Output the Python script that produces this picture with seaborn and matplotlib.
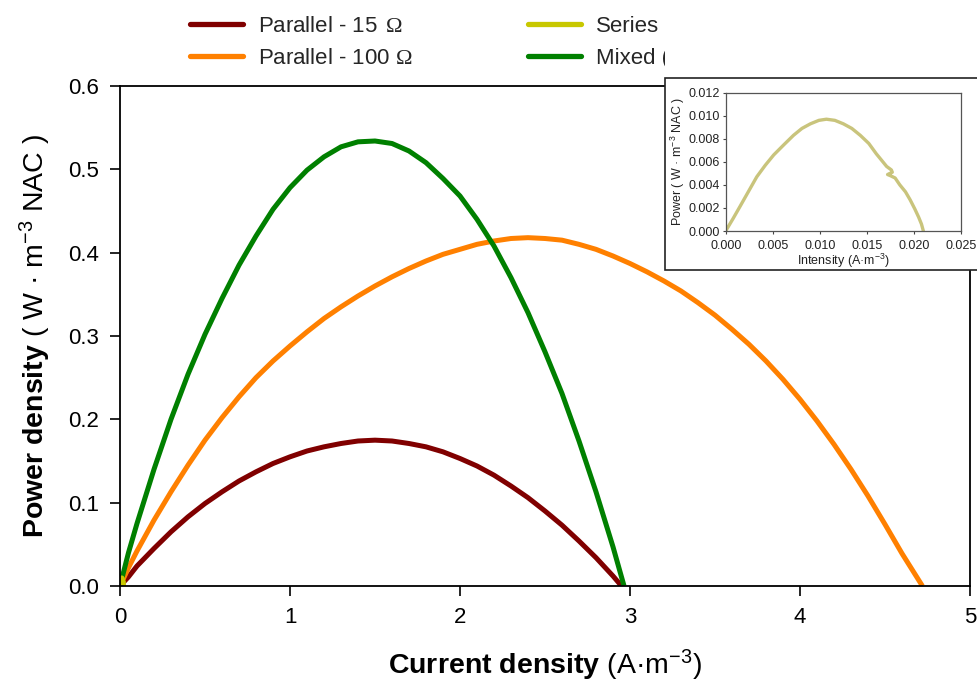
import matplotlib
matplotlib.use("Agg")
import matplotlib.pyplot as plt
import matplotlib.patches as mpatches
from matplotlib.lines import Line2D
import seaborn as sns
import pandas as pd

# Power density curves (current density in A·m-3, power density in W·m-3 NAC)
p15_current = [0, 0.05, 0.1, 0.2, 0.3, 0.4, 0.5, 0.6, 0.7, 0.8, 0.9, 1.0, 1.1, 1.2, 1.3, 1.4, 1.5,
               1.6, 1.7, 1.8, 1.9, 2.0, 2.1, 2.2, 2.3, 2.4, 2.5, 2.6, 2.7, 2.8, 2.9, 2.95]
p15_power = [0, 0.011, 0.024, 0.045, 0.065, 0.083, 0.099, 0.113, 0.126, 0.137, 0.147, 0.155, 0.162,
             0.167, 0.171, 0.174, 0.175, 0.174, 0.171, 0.167, 0.161, 0.153, 0.144, 0.133, 0.120,
             0.106, 0.090, 0.073, 0.054, 0.034, 0.012, 0]

p100_current = [0, 0.05, 0.1, 0.2, 0.3, 0.4, 0.5, 0.6, 0.7, 0.8, 0.9, 1.0, 1.1, 1.2, 1.3, 1.4, 1.5,
                1.6, 1.7, 1.8, 1.9, 2.0, 2.1, 2.2, 2.3, 2.4, 2.5, 2.6, 2.7, 2.8, 2.9, 3.0, 3.1, 3.2,
                3.3, 3.4, 3.5, 3.6, 3.7, 3.8, 3.9, 4.0, 4.1, 4.2, 4.3, 4.4, 4.5, 4.6, 4.72]
p100_power = [0, 0.022, 0.042, 0.079, 0.113, 0.145, 0.175, 0.202, 0.227, 0.250, 0.270, 0.288, 0.305,
              0.321, 0.335, 0.348, 0.360, 0.371, 0.381, 0.390, 0.398, 0.404, 0.410, 0.414, 0.417,
              0.418, 0.417, 0.415, 0.410, 0.404, 0.396, 0.387, 0.377, 0.366, 0.354, 0.340, 0.325,
              0.308, 0.290, 0.270, 0.248, 0.224, 0.198, 0.170, 0.140, 0.108, 0.074, 0.039, 0]

mixed_current = [0, 0.05, 0.1, 0.2, 0.3, 0.4, 0.5, 0.6, 0.7, 0.8, 0.9, 1.0, 1.1, 1.2, 1.3, 1.4, 1.5,
                 1.6, 1.7, 1.8, 1.9, 2.0, 2.1, 2.2, 2.3, 2.4, 2.5, 2.6, 2.7, 2.8, 2.9, 2.965]
mixed_power = [0, 0.040, 0.075, 0.140, 0.200, 0.254, 0.302, 0.345, 0.385, 0.420, 0.452, 0.478, 0.499,
               0.515, 0.527, 0.533, 0.534, 0.531, 0.522, 0.508, 0.489, 0.468, 0.440, 0.408, 0.370,
               0.328, 0.281, 0.231, 0.174, 0.113, 0.047, 0]

series_current = [0, 0.0008, 0.0015, 0.0024, 0.0033, 0.0042, 0.0051, 0.0062, 0.0072, 0.0081, 0.0090,
                  0.0099, 0.0107, 0.0116, 0.0125, 0.0134, 0.0143, 0.0152, 0.0160, 0.0166, 0.0171,
                  0.0176, 0.0177, 0.0172, 0.0175, 0.0180, 0.0185, 0.0191, 0.0196, 0.0201, 0.0205,
                  0.0208, 0.0210]
series_power = [0, 0.0011, 0.0021, 0.0034, 0.0047, 0.0057, 0.0066, 0.0075, 0.0083, 0.0089, 0.0093,
                0.0096, 0.0097, 0.0096, 0.0093, 0.0089, 0.0083, 0.0076, 0.0067, 0.0061, 0.0056,
                0.0053, 0.0051, 0.0049, 0.0048, 0.0046, 0.0040, 0.0034, 0.0027, 0.0019, 0.0012,
                0.0006, 0.0]

labels = [r"Parallel - 15 $\,\mathcal{\Omega}$", r"Parallel - 100 $\mathcal{\Omega}$", "Series",
          "Mixed (series-parallel)"]
colors = ["#800000", "#FF8000", "#C8C800", "#008000"]
series_inset_color = "#C9C47C"

x_ticks = [0, 1, 2, 3, 4, 5]
y_ticks = [0.0, 0.1, 0.2, 0.3, 0.4, 0.5, 0.6]
inset_x_ticks = [0.000, 0.005, 0.010, 0.015, 0.020, 0.025]
inset_y_ticks = [0.000, 0.002, 0.004, 0.006, 0.008, 0.010, 0.012]

sns.set_theme(style="white")
plt.rcParams["font.family"] = ["Liberation Sans", "DejaVu Sans"]
plt.rcParams["mathtext.fontset"] = "custom"
plt.rcParams["mathtext.rm"] = "Liberation Sans"
plt.rcParams["mathtext.bf"] = "Liberation Sans:bold"
plt.rcParams["mathtext.it"] = "Liberation Sans:italic"
plt.rcParams["mathtext.cal"] = "Liberation Serif"

curves = {
    labels[0]: (p15_current, p15_power, colors[0]),
    labels[1]: (p100_current, p100_power, colors[1]),
    labels[2]: (series_current, series_power, colors[2]),
    labels[3]: (mixed_current, mixed_power, colors[3]),
}

fig = plt.figure(figsize=(9.78, 6.89), dpi=100)
ax = fig.add_axes([120 / 978, 1 - 586 / 689, 850 / 978, 500 / 689])

draw_order = [labels[0], labels[1], labels[3], labels[2]]
for name in draw_order:
    xs, ys, col = curves[name]
    df = pd.DataFrame({"current": xs, "power": ys})
    sns.lineplot(data=df, x="current", y="power", ax=ax, color=col, lw=3.6,
                 sort=False, estimator=None, legend=False, solid_capstyle="butt")

ax.set_xlim(0, 5)
ax.set_ylim(0, 0.6)
ax.set_xticks(x_ticks)
ax.set_xticklabels([f"{t:d}" for t in x_ticks])
ax.set_yticks(y_ticks)
ax.set_yticklabels([f"{t:.1f}" for t in y_ticks])
ax.tick_params(axis="both", which="major", direction="out", length=7, width=1.2,
               labelsize=16, pad=8, color="black", labelcolor="black",
               bottom=True, left=True, top=False, right=False)
for s in ax.spines.values():
    s.set_visible(True)
    s.set_color("black")
    s.set_linewidth(1.3)

ax.set_xlabel(r"$\mathbf{Current\ density}$ (A·m$^{-3}$)", fontsize=20.5, color="black")
ax.set_ylabel(r"$\mathbf{Power\ density}$ ( W · m$^{-3}$ NAC )", fontsize=20.5, color="black")
ax.xaxis.set_label_coords(0.5, -0.124)
ax.yaxis.set_label_coords(-0.079, 0.5)

# legend above the plot, two columns
handles = [Line2D([0], [0], color=curves[n][2], lw=3.8) for n in labels]
leg = fig.legend(handles, labels, loc="upper left", bbox_to_anchor=(190 / 978, 1 - 16 / 689),
                 ncol=2, frameon=False, fontsize=16, handlelength=2.4, handletextpad=0.65,
                 columnspacing=5.2, labelspacing=0.5, borderpad=0, borderaxespad=0)
leg.set_zorder(0.5)

# blank strip above the inset panel
strip = mpatches.Rectangle((665 / 978, 1 - 78 / 689), 320 / 978, 78 / 689,
                           transform=fig.transFigure, facecolor="white",
                           edgecolor="none", lw=0, zorder=1)
fig.add_artist(strip)

# framed inset for the series connection
frame = mpatches.Rectangle((665 / 978, 1 - 270 / 689), 330 / 978, 192 / 689,
                           transform=fig.transFigure, facecolor="white",
                           edgecolor="#222222", lw=1.2, zorder=1)
fig.add_artist(frame)

ins = fig.add_axes([725.7 / 978, 1 - 231 / 689, 235.3 / 978, 138.3 / 689])
ins.set_zorder(2)
df_s = pd.DataFrame({"current": series_current, "power": series_power})
sns.lineplot(data=df_s, x="current", y="power", ax=ins, color=series_inset_color, lw=2.4,
             sort=False, estimator=None, legend=False)
ins.set_xlim(0, 0.025)
ins.set_ylim(0, 0.012)
ins.set_xticks(inset_x_ticks)
ins.set_xticklabels([f"{t:.3f}" for t in inset_x_ticks])
ins.set_yticks(inset_y_ticks)
ins.set_yticklabels([f"{t:.3f}" for t in inset_y_ticks])
ins.tick_params(axis="both", direction="out", length=2.5, width=0.8, labelsize=9, pad=2,
                color="#444444", labelcolor="#222222", bottom=True, left=True)
ins.tick_params(axis="x", pad=4)
for s in ins.spines.values():
    s.set_visible(True)
    s.set_color("#555555")
    s.set_linewidth(0.9)
ins.set_xlabel(r"Intensity (A·m$^{-3}$)", fontsize=9, color="#222222", labelpad=0)
ins.set_ylabel(r"Power ( W · m$^{-3}$ NAC )", fontsize=9, color="#222222", labelpad=1)

fig.savefig("out.png", dpi=100)
